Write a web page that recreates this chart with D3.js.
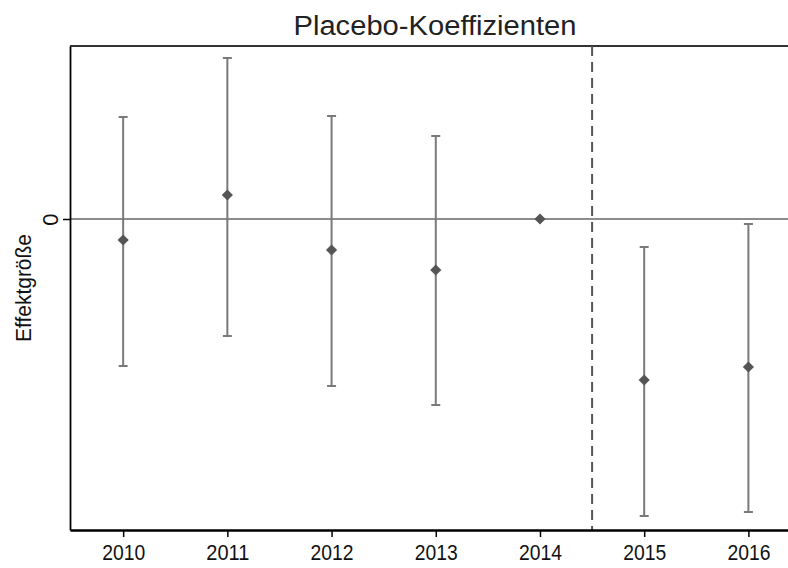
<!DOCTYPE html>
<html><head><meta charset="utf-8">
<script src="https://cdn.jsdelivr.net/npm/d3@7"></script>
<style>body{margin:0;background:#fff;} svg{display:block;}</style>
</head><body>
<svg id="c" width="788" height="568"></svg>
<script>
const years = [2010, 2011, 2012, 2013, 2014, 2015, 2016];
const estimates = [-0.021, 0.024, -0.031, -0.051, 0, -0.161, -0.148];
const lower = [-0.147, -0.117, -0.167, -0.186, null, -0.297, -0.293];
const upper = [0.102, 0.161, 0.103, 0.083, null, -0.028, -0.005];
const yTicks = [0];
const treatmentLine = 2014.5;
const title = "Placebo-Koeffizienten";
const yTitle = "Effektgröße";

const svg = d3.select("#c");
const font = "'Liberation Sans', Arial, sans-serif";
const L = 70, R = 788, T = 46, B = 530;
const x = d3.scaleLinear().domain([2009.49, 2016.38]).range([L, R]);
const y = d3.scaleLinear().domain([-0.311, 0.173]).range([B, T]);

// title
svg.append("text").attr("x", 435).attr("y", 35).attr("text-anchor", "middle")
  .attr("font-family", font).attr("font-size", 27).attr("fill", "#222")
  .attr("textLength", 283).attr("lengthAdjust", "spacingAndGlyphs").text(title);

// top border
svg.append("line").attr("x1", L).attr("x2", R).attr("y1", T).attr("y2", T)
  .attr("stroke", "#333").attr("stroke-width", 2);

// zero line
svg.append("line").attr("x1", L).attr("x2", R).attr("y1", y(0)).attr("y2", y(0))
  .attr("stroke", "#666").attr("stroke-width", 1.6);

// dashed treatment line
svg.append("line").attr("x1", x(treatmentLine)).attr("x2", x(treatmentLine))
  .attr("y1", T).attr("y2", B).attr("stroke", "#555").attr("stroke-width", 2)
  .attr("stroke-dasharray", "10,6");

// error bars
const data = years.map((yr, i) => ({yr, est: estimates[i], lo: lower[i], hi: upper[i]}));
const eb = svg.append("g").attr("stroke", "#7a7a7a").attr("stroke-width", 2);
data.filter(d => d.lo !== null).forEach(d => {
  eb.append("line").attr("x1", x(d.yr)).attr("x2", x(d.yr)).attr("y1", y(d.lo)).attr("y2", y(d.hi));
  eb.append("line").attr("x1", x(d.yr) - 4.5).attr("x2", x(d.yr) + 4.5).attr("y1", y(d.lo)).attr("y2", y(d.lo));
  eb.append("line").attr("x1", x(d.yr) - 4.5).attr("x2", x(d.yr) + 4.5).attr("y1", y(d.hi)).attr("y2", y(d.hi));
});

// markers
svg.append("g").selectAll("path").data(data).join("path")
  .attr("d", d3.symbol().type(d3.symbolDiamond2).size(80))
  .attr("transform", d => `translate(${x(d.yr)},${y(d.est)})`)
  .attr("fill", "#555");

// x axis
const xAxis = svg.append("g").attr("transform", `translate(0,${B})`)
  .call(d3.axisBottom(x).tickValues(years).tickFormat(d3.format("d")).tickSize(7).tickSizeOuter(0));
xAxis.select(".domain").attr("stroke", "#000").attr("stroke-width", 2.5);
xAxis.selectAll(".tick line").attr("stroke", "#000").attr("stroke-width", 1.5);
xAxis.selectAll(".tick text").attr("font-family", font).attr("font-size", 22)
  .attr("fill", "#111").attr("dy", "0.9em")
  .attr("textLength", 43).attr("lengthAdjust", "spacingAndGlyphs");

// y axis
const yAxis = svg.append("g").attr("transform", `translate(${L},0)`)
  .call(d3.axisLeft(y).tickValues(yTicks).tickFormat(d3.format("d")).tickSize(7).tickSizeOuter(0));
yAxis.select(".domain").attr("stroke", "#000").attr("stroke-width", 1.8);
yAxis.selectAll(".tick line").attr("stroke", "#000").attr("stroke-width", 1.5);
yAxis.selectAll(".tick text").attr("font-family", font).attr("font-size", 22).attr("fill", "#111")
  .attr("x", null).attr("text-anchor", "middle")
  .attr("transform", "translate(-20,0) rotate(-90)").attr("dy", "0.35em");

// y title
svg.append("text").attr("transform", `translate(31,288) rotate(-90)`)
  .attr("text-anchor", "middle").attr("font-family", font).attr("font-size", 22)
  .attr("fill", "#111").attr("textLength", 108).attr("lengthAdjust", "spacingAndGlyphs")
  .text(yTitle);
</script>
</body></html>
